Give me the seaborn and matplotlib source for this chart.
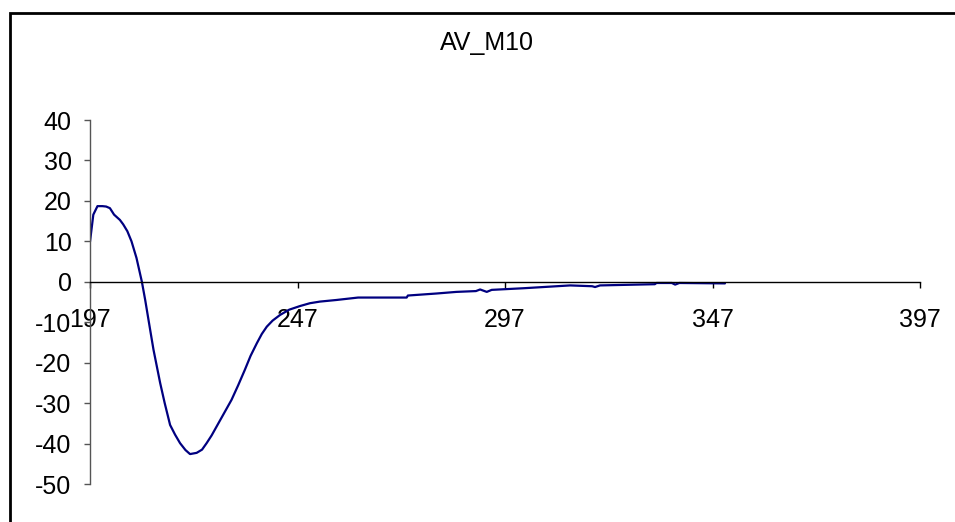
import matplotlib
matplotlib.use("Agg")
import matplotlib.pyplot as plt
import seaborn as sns
import pandas as pd
from matplotlib.patches import Rectangle

# wavelength (nm) and signal
wavelength = [197, 197.8, 198.8, 200, 200.9, 201.8, 202.8, 204.2, 205, 206, 207, 208.2, 209.5,
              210.3, 211.5, 212.3, 213.9, 215, 216.3, 217.5, 218.7, 220, 221.1, 222.7, 224,
              225.1, 226.3, 227.5, 229.3, 231.1, 232.7, 234.3, 235.7, 237.2, 238.4, 239.6,
              241, 242.8, 245, 247.6, 250, 252.4, 256.4, 261.6, 273.3, 273.6, 280.5, 285.3,
              290, 291, 292.6, 293.8, 301.4, 312.7, 318, 318.7, 319.9, 333.1, 333.5, 337.2,
              338, 339, 350]
signal = [9.9, 16.6, 18.7, 18.7, 18.6, 18.2, 16.6, 15.3, 14.2, 12.5, 10.0, 5.9, 0.0,
          -4.5, -11.9, -16.8, -25.0, -30.0, -35.4, -37.8, -39.9, -41.6, -42.6, -42.3, -41.5,
          -39.9, -38.0, -35.8, -32.5, -29.2, -25.6, -21.8, -18.3, -15.2, -12.9, -11.1,
          -9.6, -8.2, -6.9, -6.0, -5.3, -4.9, -4.5, -3.9, -3.9, -3.4, -2.9, -2.5,
          -2.3, -1.9, -2.5, -2.0, -1.6, -0.9, -1.1, -1.3, -0.9, -0.6, -0.3, -0.3,
          -0.7, -0.3, -0.4]
x_ticks = [197, 247, 297, 347, 397]
y_ticks = [-50, -40, -30, -20, -10, 0, 10, 20, 30, 40]
title = "AV_M10"

df = pd.DataFrame({"wavelength": wavelength, "signal": signal})

sns.set_style("white")
plt.rcParams["font.family"] = ["Liberation Sans", "DejaVu Sans"]
plt.rcParams["axes.unicode_minus"] = False
plt.rcParams["text.color"] = "black"
plt.rcParams["xtick.color"] = "black"
plt.rcParams["ytick.color"] = "black"

fig = plt.figure(figsize=(9.55, 5.22), dpi=100)
ax = fig.add_axes([90 / 955, 1 - 484 / 522, (920 - 90) / 955, (484 - 120) / 522])

sns.lineplot(data=df, x="wavelength", y="signal", ax=ax, color="#000080", linewidth=1.6)

ax.set_xlim(197, 397)
ax.set_ylim(-50, 40)
ax.set_xticks(x_ticks)
ax.set_yticks(y_ticks)
ax.set_xlabel("")
ax.set_ylabel("")

ax.spines["top"].set_visible(False)
ax.spines["right"].set_visible(False)
ax.spines["bottom"].set_position(("data", 0))
ax.spines["bottom"].set_color("black")
ax.spines["bottom"].set_linewidth(1.0)
ax.spines["left"].set_color("#555555")
ax.spines["left"].set_linewidth(1.0)

ax.tick_params(axis="y", direction="out", length=4.3, width=1, color="#555555",
               labelcolor="black", labelsize=18, pad=9, left=True)
ax.tick_params(axis="x", direction="out", length=4, width=1, color="black",
               labelcolor="black", labelsize=18, pad=15, bottom=True)

fig.text(487 / 955, 1 - 43 / 522, title, ha="center", va="center", fontsize=18,
         color="black")

# chart area border
fig.patches.append(Rectangle((10 / 955, -0.1), 1.2, 1 - 12.5 / 522 + 0.1,
                             transform=fig.transFigure, fill=False,
                             edgecolor="black", linewidth=2))

fig.savefig("out.png", dpi=100)
